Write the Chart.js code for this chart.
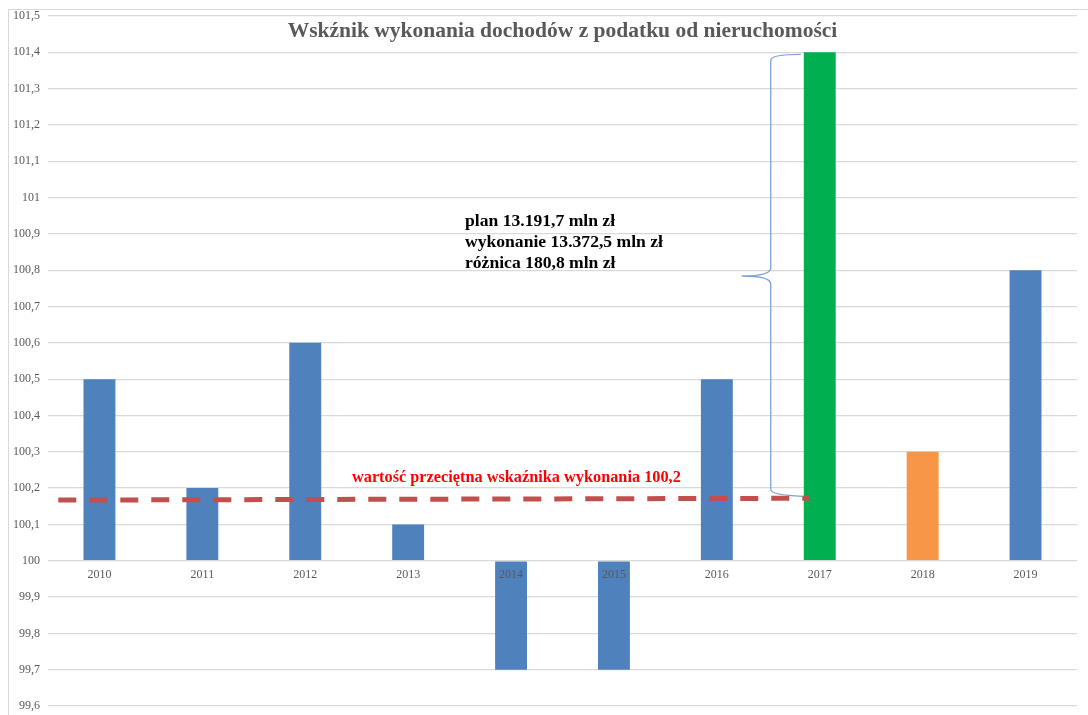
<!DOCTYPE html>
<html>
<head>
<meta charset="utf-8">
<script src="https://cdn.jsdelivr.net/npm/chart.js@4/dist/chart.umd.min.js"></script>
<style>
  html, body { margin: 0; padding: 0; background: #fff; }
  #wrap { position: relative; width: 1088px; height: 715px; }
  #frame { position: absolute; left: 8px; top: 9px; width: 1100px; height: 720px;
           border-left: 1px solid #d9d9d9; border-top: 1px solid #d9d9d9; }
  canvas { position: absolute; left: 0; top: 0; }
</style>
</head>
<body>
<div id="wrap">
  <div id="frame"></div>
  <canvas id="chart" width="1088" height="715"></canvas>
</div>
<script>
const years = ["2010", "2011", "2012", "2013", "2014", "2015", "2016", "2017", "2018", "2019"];
const indexValues = [100.5, 100.2, 100.6, 100.1, 99.7, 99.7, 100.5, 101.4, 100.3, 100.8];
const barColors = ["#4f81bd", "#4f81bd", "#4f81bd", "#4f81bd", "#4f81bd", "#4f81bd", "#4f81bd", "#00b050", "#f79646", "#4f81bd"];
// average line, given on a linear axis that lines up with the categories
const averageLine = [{ x: -0.4, y: 100.167 }, { x: 6.9, y: 100.172 }];
const titleText = "Wskźnik wykonania dochodów z podatku od nieruchomości";
const averageLabel = "wartość przeciętna wskaźnika wykonania 100,2";
const noteLines = ["plan 13.191,7 mln zł", "wykonanie 13.372,5 mln zł", "różnica 180,8 mln zł"];

const serif = "'Liberation Serif', 'Times New Roman', serif";

const overlay = {
  id: "overlay",
  afterDatasetsDraw(chart) {
    const ctx = chart.ctx;
    const x = chart.scales.x, y = chart.scales.y;
    ctx.save();

    // category labels sit on the 100 line, above the bars
    ctx.font = "12px " + serif;
    ctx.fillStyle = "#595959";
    ctx.textAlign = "center";
    ctx.textBaseline = "middle";
    const y100 = y.getPixelForValue(100);
    years.forEach((yr, i) => ctx.fillText(yr, x.getPixelForValue(i), y100 + 14));

    // title
    ctx.font = "bold 21.5px " + serif;
    ctx.fillStyle = "#595959";
    ctx.fillText(titleText, (chart.chartArea.left + chart.chartArea.right) / 2, 31);

    // average label
    ctx.font = "bold 16.3px " + serif;
    ctx.fillStyle = "#ff0000";
    ctx.textAlign = "left";
    ctx.fillText(averageLabel, 352, 478);

    // note
    ctx.font = "bold 17.6px " + serif;
    ctx.fillStyle = "#000";
    noteLines.forEach((t, i) => ctx.fillText(t, 465, 221 + i * 21));

    // brace beside the 2017 bar
    const bx = x.getPixelForValue(7);
    const top = y.getPixelForValue(101.4) + 2;
    const bot = y.getPixelForValue(100.18);
    const mid = 276;
    const vx = bx - 49, tipX = bx - 78, endX = bx - 19;
    ctx.strokeStyle = "#7da3d4";
    ctx.lineWidth = 1.3;
    ctx.beginPath();
    ctx.moveTo(endX, top);
    ctx.quadraticCurveTo(vx, top, vx, top + 6);
    ctx.lineTo(vx, mid - 8);
    ctx.quadraticCurveTo(vx, mid, tipX, mid);
    ctx.quadraticCurveTo(vx, mid, vx, mid + 8);
    ctx.lineTo(vx, bot - 6);
    ctx.quadraticCurveTo(vx, bot, endX + 2, bot + 1);
    ctx.stroke();

    ctx.restore();
  }
};

new Chart(document.getElementById("chart"), {
  type: "bar",
  data: {
    labels: years,
    datasets: [
      {
        type: "line",
        data: averageLine,
        xAxisID: "x2",
        borderColor: "#c0504d",
        borderWidth: 5,
        borderDash: [18, 13],
        pointRadius: 0,
        fill: false,
        order: 0
      },
      {
        data: indexValues,
        xAxisID: "x",
        base: 100,
        grouped: false,
        backgroundColor: barColors,
        barPercentage: 1,
        categoryPercentage: 0.31,
        order: 1
      }
    ]
  },
  options: {
    responsive: false,
    animation: false,
    layout: { padding: { top: 16, right: 11, bottom: 9, left: 0 } },
    plugins: { legend: { display: false }, tooltip: { enabled: false } },
    scales: {
      x: {
        type: "category",
        display: false
      },
      x2: {
        type: "linear",
        min: -0.5,
        max: 9.5,
        offset: false,
        grid: { offset: false },
        display: false
      },
      y: {
        min: 99.6,
        max: 101.5,
        afterFit(scale) {
          scale.width = 48;
          scale.paddingTop = 0;
          scale.paddingBottom = 0;
        },
        grid: { color: "#d9d9d9", lineWidth: 1.3, drawTicks: false },
        border: { display: false },
        ticks: {
          stepSize: 0.1,
          padding: 8,
          color: "#595959",
          font: { family: serif, size: 12 },
          callback: v => String(Number(v.toFixed(1))).replace(".", ",")
        }
      }
    }
  },
  plugins: [overlay]
});
</script>
</body>
</html>
